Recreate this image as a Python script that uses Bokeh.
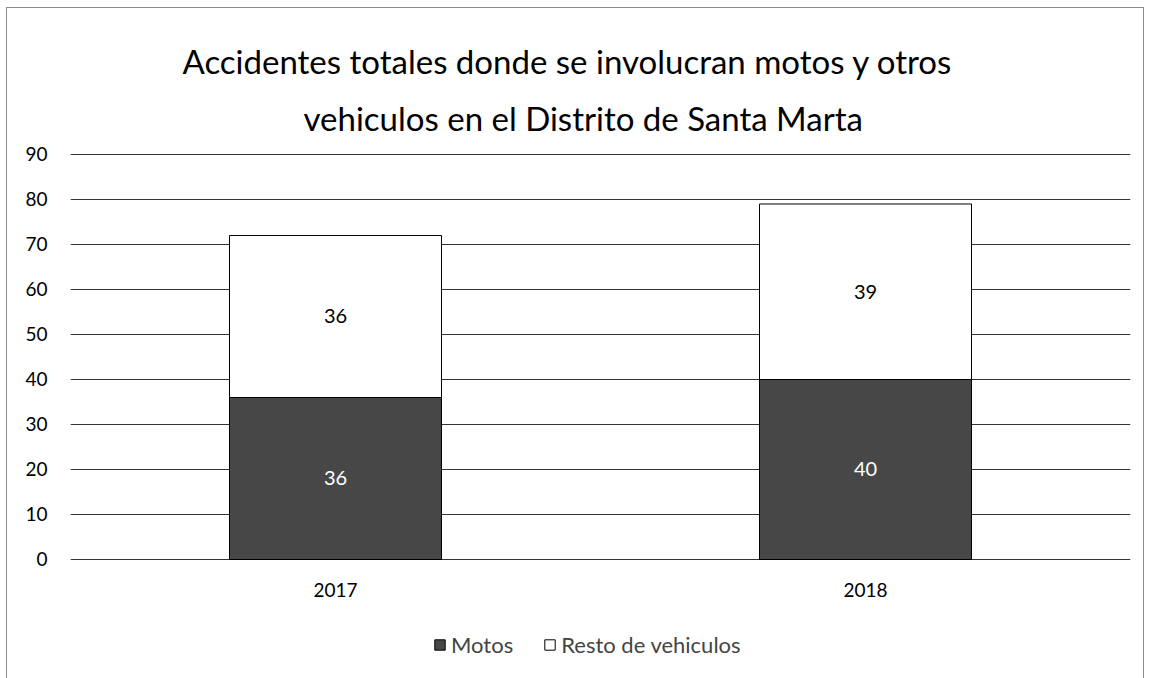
from bokeh.plotting import figure
from bokeh.models import Title, Legend, LegendItem, ColumnDataSource, FactorRange, Range1d
from bokeh.core.properties import value
from bokeh.embed import file_html
from bokeh.resources import INLINE

# ---- data ----
years = ["2017", "2018"]
motos = [36, 40]
resto = [36, 39]
series_names = ["Motos", "Resto de vehiculos"]
y_ticks = [0, 10, 20, 30, 40, 50, 60, 70, 80, 90]
title_line1 = "Accidentes totales donde se involucran motos y otros"
title_line2 = "vehiculos en el Distrito de Santa Marta"

FONT = "Lato"
MOTOS_COLOR = "#474747"
RESTO_COLOR = "#ffffff"

# layout constants (pixels -> data units of the value axis)
PX_PER_UNIT = 4.5
YEAR_LABEL_OFFSET = -31 / PX_PER_UNIT      # year labels 31 px below the zero line
Y_START = -119 / PX_PER_UNIT               # room below zero for year labels + legend

src = ColumnDataSource(dict(
    year=years,
    motos=motos,
    resto=resto,
    motos_mid=[m / 2 for m in motos],
    resto_mid=[m + r / 2 for m, r in zip(motos, resto)],
    motos_txt=[str(v) for v in motos],
    resto_txt=[str(v) for v in resto],
    label_y=[YEAR_LABEL_OFFSET] * len(years),
))

p = figure(
    x_range=FactorRange(*years), y_range=Range1d(Y_START, 90.22),
    width=1136, height=670,
    output_backend="svg", toolbar_location=None,
    min_border_left=63, min_border_right=13,
    min_border_top=145, min_border_bottom=0,
)
p.margin = (8, 0, 0, 7)
p.styles = {"outline": "1px solid #8a8a8a"}
p.outline_line_color = None
p.background_fill_color = "white"
p.border_fill_color = "white"

rs = p.vbar_stack(["motos", "resto"], x="year", width=0.4, source=src,
                  fill_color=[MOTOS_COLOR, RESTO_COLOR],
                  line_color="black", line_width=1)

p.text(x="year", y="motos_mid", text="motos_txt", source=src,
       text_align="center", text_baseline="middle",
       text_font=value(FONT), text_font_size="20px", text_color="white")
p.text(x="year", y="resto_mid", text="resto_txt", source=src,
       text_align="center", text_baseline="middle",
       text_font=value(FONT), text_font_size="20px", text_color="black")
# category (year) labels under the bars
p.text(x="year", y="label_y", text="year", source=src,
       text_align="center", text_baseline="middle",
       text_font=value(FONT), text_font_size="19px", text_color="black")

# titles (first added is nearest to the plot)
p.add_layout(Title(text=title_line2, align="left", text_font=FONT,
                   text_font_size="33px", text_font_style="normal",
                   text_line_height=0.85,
                   text_color="black", offset=233, standoff=31), "above")
p.add_layout(Title(text=title_line1, align="left", text_font=FONT,
                   text_font_size="33px", text_font_style="normal",
                   text_color="black", offset=112, standoff=0), "above")

# axes
p.yaxis.ticker = y_ticks
p.yaxis.axis_line_color = None
p.yaxis.major_tick_line_color = None
p.yaxis.minor_tick_line_color = None
p.yaxis.major_label_text_font = FONT
p.yaxis.major_label_text_font_size = "19px"
p.yaxis.major_label_text_color = "black"
p.yaxis.major_label_standoff = 17
p.xaxis.visible = False

p.xgrid.grid_line_color = None
p.ygrid.grid_line_color = "#333333"
p.ygrid.grid_line_width = 1

legend = Legend(items=[LegendItem(label=series_names[0], renderers=[rs[0]]),
                       LegendItem(label=series_names[1], renderers=[rs[1]])],
                orientation="horizontal", location=(363, 20),
                border_line_color=None, background_fill_alpha=0,
                label_text_font=FONT, label_text_font_size="22px",
                glyph_width=13, glyph_height=13, label_standoff=5,
                spacing=30, padding=0, margin=0)
p.add_layout(legend, "center")

open("out.html", "w").write(file_html(p, INLINE))
